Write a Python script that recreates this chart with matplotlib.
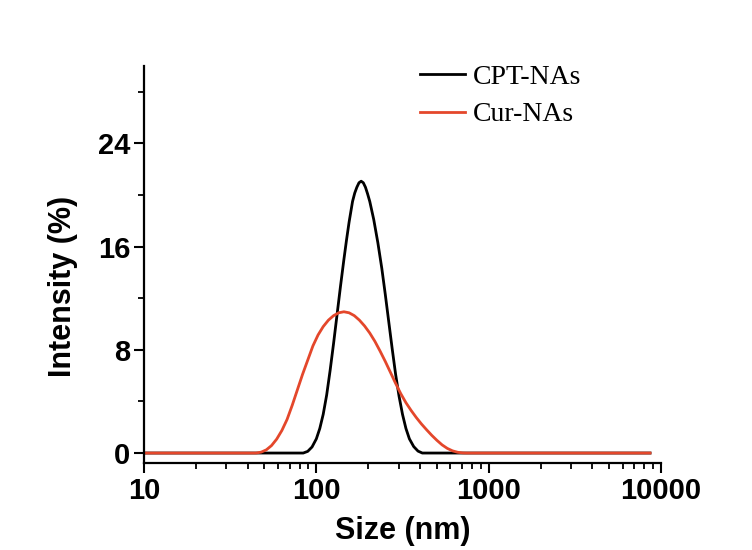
import numpy as np
import matplotlib
matplotlib.use('Agg')
import matplotlib.pyplot as plt
from matplotlib.ticker import FixedLocator, NullFormatter

# size (nm) and intensity (%)
cpt_size = [10, 79.43, 83.95, 89.13, 94.41, 100, 104.7, 109.6, 114.8, 120.2, 125.9,
            131.8, 138.0, 144.5, 149.6, 154.9, 162.2, 167.0, 171.8, 176.8, 182.0,
            187.3, 192.8, 198.2, 204.2, 215.3, 227.5, 239.9, 251.2, 263.0, 275.4,
            288.4, 302.0, 316.2, 331.1, 346.7, 367.3, 389.0, 412.1, 8635]
cpt_int = [0, 0, 0, 0.13, 0.47, 1.1, 1.9, 3.0, 4.5, 6.4, 8.5,
           10.7, 12.9, 15.0, 16.5, 17.9, 19.5, 20.15, 20.6, 20.95, 21.07,
           20.95, 20.6, 20.1, 19.5, 18.1, 16.3, 14.3, 12.3, 10.2, 8.1,
           6.1, 4.4, 3.0, 1.9, 1.1, 0.5, 0.15, 0, 0]

cur_size = [10, 44.67, 47.86, 51.29, 54.95, 58.88, 63.10, 67.61, 72.44, 77.62, 83.18,
            89.13, 95.50, 102.3, 109.6, 117.5, 125.9, 134.9, 144.5, 154.9, 166.0,
            177.8, 190.5, 204.2, 218.8, 234.4, 251.2, 269.2, 288.4, 309.0, 331.1,
            354.8, 380.2, 407.4, 436.5, 467.7, 501.2, 537.0, 575.4, 616.6, 660.7,
            707.9, 741.3, 8635]
cur_int = [0, 0, 0.07, 0.25, 0.58, 1.08, 1.75, 2.6, 3.7, 4.9, 6.1,
           7.2, 8.3, 9.15, 9.8, 10.3, 10.65, 10.87, 10.95, 10.87, 10.65,
           10.3, 9.85, 9.3, 8.65, 7.9, 7.1, 6.25, 5.4, 4.6, 3.9,
           3.3, 2.75, 2.25, 1.8, 1.37, 0.98, 0.63, 0.36, 0.17, 0.06,
           0.01, 0, 0]

labels = ['CPT-NAs', 'Cur-NAs']
colors = ['black', '#E4472B']

plt.rcParams['font.family'] = 'Liberation Sans'
plt.rcParams['font.weight'] = 'bold'

fig = plt.figure(figsize=(7.52, 5.5), dpi=100)
ax = fig.add_axes([0.1915, 0.158, 0.6875, 0.722])

ax.plot(cpt_size, cpt_int, color=colors[0], lw=2.0, label=labels[0], solid_joinstyle='round')
ax.plot(cur_size, cur_int, color=colors[1], lw=2.0, label=labels[1], solid_joinstyle='round')

ax.set_xscale('log')
ax.set_xlim(10, 10000)
ax.set_ylim(-0.78, 30)

ax.yaxis.set_major_locator(FixedLocator([0, 8, 16, 24]))
ax.yaxis.set_minor_locator(FixedLocator([4, 12, 20, 28]))
ax.set_xticks([10, 100, 1000, 10000])
ax.set_xticklabels(['10', '100', '1000', '10000'])
ax.xaxis.set_minor_formatter(NullFormatter())

for s in ['top', 'right']:
    ax.spines[s].set_visible(False)
for s in ['left', 'bottom']:
    ax.spines[s].set_linewidth(1.6)

ax.tick_params(which='major', direction='out', length=7, width=1.5, labelsize=21, pad=3)
ax.tick_params(which='minor', direction='out', length=4, width=1.3)
for lab in ax.get_xticklabels() + ax.get_yticklabels():
    lab.set_fontweight('bold')

ax.set_xlabel('Size (nm)', fontsize=22, fontweight='bold', labelpad=8)
ax.set_ylabel('Intensity (%)', fontsize=22, fontweight='bold')
ax.yaxis.set_label_coords(-0.128, 0.446)

leg = ax.legend(loc='upper left', bbox_to_anchor=(0.525, 0.928), bbox_transform=fig.transFigure,
                frameon=False, handlelength=1.62, handletextpad=0.3, labelspacing=0.43,
                prop={'family': 'Liberation Serif', 'size': 20, 'weight': 'normal'})

fig.savefig('out.png', dpi=100)
